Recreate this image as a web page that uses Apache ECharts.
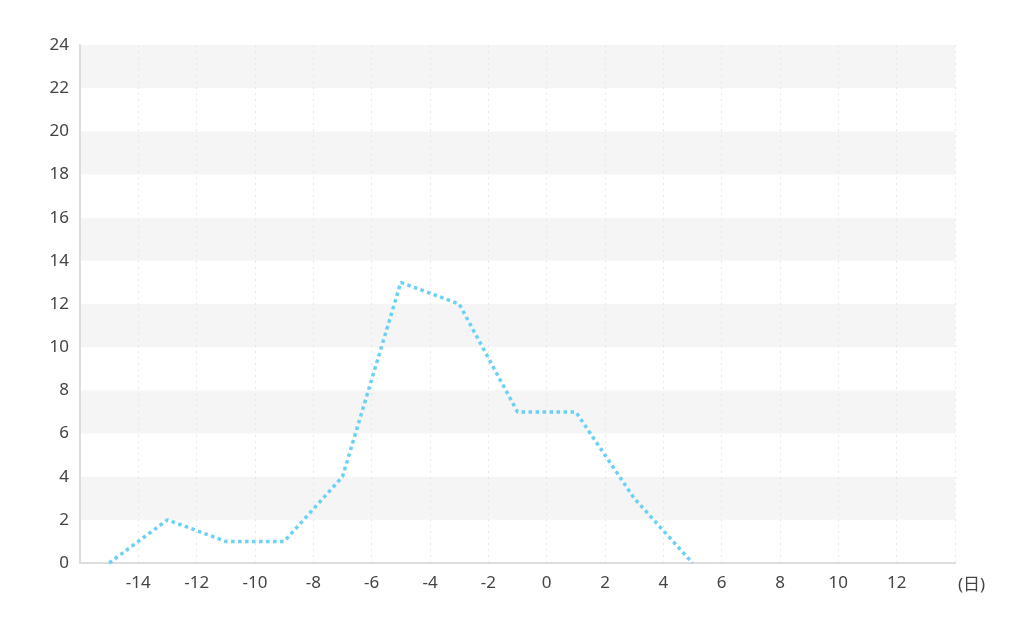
<!DOCTYPE html>
<html><head><meta charset="utf-8">
<script src="https://cdn.jsdelivr.net/npm/echarts@6/dist/echarts.min.js"></script>
<style>html,body{margin:0;padding:0;background:#fff}#c{width:1024px;height:627px}</style>
</head><body><div id="c"></div>
<script>
var days = [-15, -13, -11, -9, -7, -5, -3, -1, 1, 3, 5];
var counts = [0, 2, 1, 1, 4, 13, 12, 7, 7, 3, 0];
var xUnit = '(日)';

var chart = echarts.init(document.getElementById('c'), null, {renderer: 'canvas'});
var font = "'Noto Sans', 'Noto Sans CJK SC', sans-serif";
chart.setOption({
  animation: false,
  textStyle: {fontFamily: font},
  grid: {left: 80, right: 69, top: 45, bottom: 64},
  xAxis: {
    type: 'value', min: -16, max: 14, interval: 2,
    name: xUnit, nameLocation: 'end', nameGap: 3,
    nameTextStyle: {color: '#444', fontSize: 17, fontFamily: font, verticalAlign: 'top', padding: [14, 0, 0, 0]},
    axisLine: {onZero: false, lineStyle: {color: '#ddd', width: 2}},
    axisTick: {show: false},
    axisLabel: {color: '#444', fontSize: 17, margin: 12, showMinLabel: false, showMaxLabel: false, fontFamily: font},
    splitLine: {show: true, lineStyle: {color: '#e6e6e6', type: [2, 4], width: 1}}
  },
  yAxis: {
    type: 'value', min: 0, max: 24, interval: 2,
    axisLine: {show: true, onZero: false, lineStyle: {color: '#ddd', width: 2}},
    axisTick: {show: false},
    axisLabel: {color: '#444', fontSize: 17, margin: 11, fontFamily: font},
    splitLine: {show: false},
    splitArea: {show: true, areaStyle: {color: ['#ffffff', '#f5f5f5']}}
  },
  series: [{
    type: 'line',
    data: days.map(function (d, i) { return [d, counts[i]]; }),
    symbol: 'none',
    lineStyle: {color: '#6ad0f6', width: 3.5, type: 'dotted'}
  }]
});
</script></body></html>
